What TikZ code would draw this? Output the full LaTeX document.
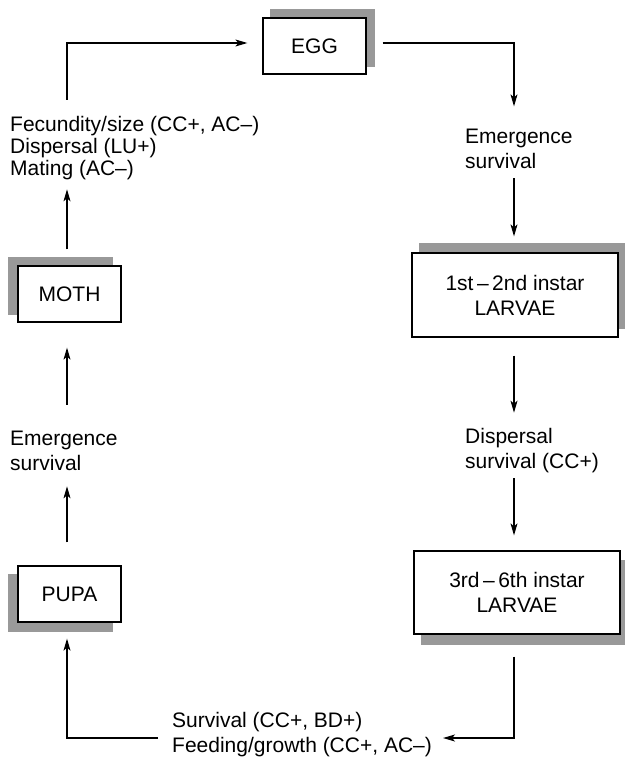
\documentclass[tikz,border=0pt]{standalone}
\usepackage{fontspec}
\setmainfont{Liberation Sans}
\usetikzlibrary{arrows.meta,backgrounds}
\definecolor{shadowgray}{RGB}{153,153,153}
\tikzset{
  stagebox/.style={draw=black,line width=1.3pt,fill=white,inner sep=0pt,align=center,
    font=\fontsize{21}{25}\selectfont},
  lbl/.style={inner sep=0pt,align=left,anchor=west,font=\fontsize{21}{25}\selectfont},
  conn/.style={line width=1.1pt},
  arr/.style={conn,-{Stealth[length=12pt,width=7pt,inset=3pt]}},
}
\begin{document}
\begin{tikzpicture}[x=1pt,y=-1pt]
\useasboundingbox (0,0) rectangle (624,759);
% boxes
\node[stagebox,minimum width=103pt,minimum height=56pt] (egg) at (314.5,46) {EGG};
\node[stagebox,minimum width=206pt,minimum height=84pt] (l1) at (515,295) {1st\,–\,2nd instar\\LARVAE};
\node[stagebox,minimum width=206pt,minimum height=83pt] (l2) at (517,592.5) {3rd\,–\,6th instar\\LARVAE};
\node[stagebox,minimum width=103pt,minimum height=56pt] (moth) at (69.5,294) {MOTH};
\node[stagebox,minimum width=103pt,minimum height=56pt] (pupa) at (69.5,594) {PUPA};
% shadows
\begin{scope}[on background layer]
\fill[shadowgray] ([shift={(8,-8)}]egg.south west) rectangle ([shift={(8,-8)}]egg.north east);
\fill[shadowgray] ([shift={(8,-9)}]l1.south west) rectangle ([shift={(8,-9)}]l1.north east);
\fill[shadowgray] ([shift={(8,10)}]l2.south west) rectangle ([shift={(8,10)}]l2.north east);
\fill[shadowgray] ([shift={(-9,-8)}]moth.south west) rectangle ([shift={(-9,-8)}]moth.north east);
\fill[shadowgray] ([shift={(-9,9)}]pupa.south west) rectangle ([shift={(-9,9)}]pupa.north east);
\end{scope}
% labels
\node[lbl] (emR) at (465,149) {Emergence\\survival};
\node[lbl] (disp) at (465,451) {Dispersal\\survival (CC+)};
\node[lbl] (emL) at (10,451) {Emergence\\survival};
\node[lbl,font=\fontsize{21}{22}\selectfont] (fec) at (10,148) {Fecundity/size (CC+, AC–)\\Dispersal (LU+)\\Mating (AC–)};
\node[lbl] (surv) at (172,735) {Survival (CC+, BD+)\\Feeding/growth (CC+, AC–)};
% connector ends
\coordinate (bR) at (443,738);
\coordinate (bL) at (158,738);
\coordinate (tL) at (67,100);
% connectors
\draw[arr] ([xshift=16pt,yshift=3pt]egg.east) -| ([xshift=-1pt,yshift=146pt]l1.north);
\draw[arr] ([xshift=-1pt,yshift=74pt]l1.north) -- ([xshift=-1pt,yshift=16pt]l1.north);
\draw[arr] ([xshift=-1pt,yshift=-18pt]l1.south) -- ([xshift=-1pt,yshift=-75pt]l1.south);
\draw[arr] ([xshift=-3pt,yshift=72pt]l2.north) -- ([xshift=-3pt,yshift=15pt]l2.north);
\draw[arr] ([xshift=-3pt,yshift=-22pt]l2.south) |- (bR);
\draw[arr] (bL) -| ([xshift=-2.5pt,yshift=-16pt]pupa.south);
\draw[arr] ([xshift=-2.5pt,yshift=23pt]pupa.north) -- ([xshift=-2.5pt,yshift=79pt]pupa.north);
\draw[arr] ([xshift=-2.5pt,yshift=-82pt]moth.south) -- ([xshift=-2.5pt,yshift=-25pt]moth.south);
\draw[arr] ([xshift=-2.5pt,yshift=16pt]moth.north) -- ([xshift=-2.5pt,yshift=76pt]moth.north);
\draw[arr] (tL) |- ([xshift=-15pt,yshift=3pt]egg.west);
\end{tikzpicture}
\end{document}
